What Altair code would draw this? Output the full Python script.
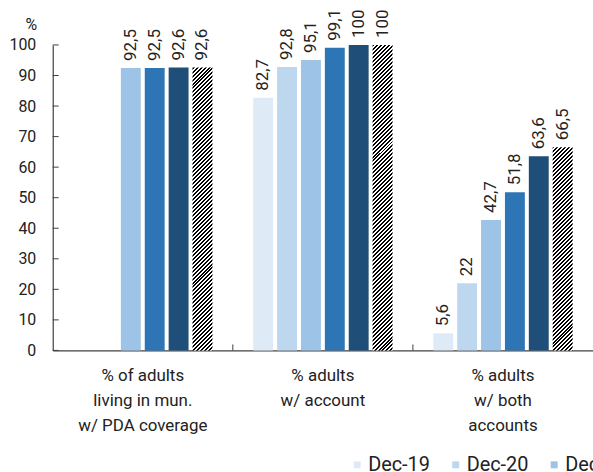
import altair as alt
import pandas as pd

# Categories (line breaks mark where the axis label wraps)
categories = [
    "% of adults\nliving in mun.\nw/ PDA coverage",
    "% adults\nw/ account",
    "% adults\nw/ both\naccounts",
]
series = ["Dec-19", "Dec-20", "Dec-21", "Dec-22", "Dec-23", "Dec-24"]
colors = ["#DEEBF7", "#BDD7EE", "#9DC3E6", "#2E75B6", "#1F4E79", "#3A3A3A"]
hatched = "Dec-24"

values_pda = [None, None, 92.5, 92.5, 92.6, 92.6]
values_account = [82.7, 92.8, 95.1, 99.1, 100, 100]
values_both = [5.6, 22, 42.7, 51.8, 63.6, 66.5]
y_ticks = list(range(0, 101, 10))

W, H = 543, 307          # plot area
BAR_W = 20               # bar width produced by the offset scale below
TEXT = "#222222"
AXIS = "#404040"
FONT = "Roboto"


def fmt(v):
    return str(int(v)) if float(v).is_integer() else str(v).replace(".", ",")


rows = []
for cat, vals in zip(categories, [values_pda, values_account, values_both]):
    for s, v in zip(series, vals):
        if v is not None:
            rows.append({"category": cat, "series": s, "value": v, "label": fmt(v)})
df = pd.DataFrame(rows)

x_scale = alt.Scale(domain=categories, paddingInner=0, paddingOuter=0)
x_axis = alt.Axis(
    title=None, ticks=False, labelAngle=0, labelPadding=17,
    labelFontSize=17, labelLineHeight=25, labelBaseline="top",
    labelExpr="split(datum.label, '\\n')", labelLimit=0,
    labelColor=TEXT, labelFont=FONT, domainColor=AXIS, domainWidth=1.2,
)
x_enc = alt.X("category:N", sort=categories, scale=x_scale, axis=x_axis)
xoff_enc = alt.XOffset(
    "series:N", sort=series,
    scale=alt.Scale(domain=series, paddingInner=1 / 6, paddingOuter=0.854),
)
y_axis = alt.Axis(
    values=y_ticks, ticks=False, grid=False, labelPadding=17, labelFontSize=16,
    labelFont=FONT, labelColor=TEXT, labelFlush=False,
    domainColor=AXIS, domainWidth=1.2,
    title="%", titleAngle=0, titleX=-22, titleY=-21, titleAlign="center",
    titleBaseline="middle", titleFontSize=16, titleFontWeight="normal",
    titleFont=FONT, titleColor=TEXT,
)
y_enc = alt.Y("value:Q", scale=alt.Scale(domain=[0, 100], nice=False), axis=y_axis)

# Solid bars
solid = alt.Chart(df[df["series"] != hatched]).mark_bar().encode(
    x=x_enc,
    xOffset=xoff_enc,
    y=y_enc,
    color=alt.Color(
        "series:N",
        scale=alt.Scale(domain=series, range=colors),
        legend=alt.Legend(
            title=None, orient="none", direction="horizontal",
            legendX=296, legendY=412, symbolType="square", symbolSize=49,
            symbolStrokeWidth=0, labelFontSize=20, labelFont=FONT,
            labelColor=TEXT, labelOffset=1, columnPadding=15, padding=0,
        ),
    ),
)


def hatch_fill(height_px, period=4.0, s=1.1):
    """Diagonal black/white stripes as a hard-stop linear gradient (bbox units)."""
    a = BAR_W / height_px
    span = height_px * s * (1 + a * a)
    p = period / span
    stops = []
    k = 0
    while k * p < 1:
        o0, o1, o2 = k * p, min(k * p + p / 2, 1), min((k + 1) * p, 1)
        stops += [
            {"offset": o0, "color": "#000000"},
            {"offset": o1, "color": "#000000"},
            {"offset": o1, "color": "#ffffff"},
            {"offset": o2, "color": "#ffffff"},
        ]
        k += 1
    return {"gradient": "linear", "x1": 0, "y1": 0, "x2": a * s, "y2": s, "stops": stops}


hatch_layers = []
for cat in categories:
    sub = df[(df["series"] == hatched) & (df["category"] == cat)]
    v = float(sub["value"].iloc[0])
    hatch_layers.append(
        alt.Chart(sub).mark_bar(fill=hatch_fill(v * H / 100)).encode(
            x=x_enc, xOffset=xoff_enc, y=y_enc
        )
    )

labels = alt.Chart(df).mark_text(
    angle=270, align="left", baseline="middle", dx=7,
    fontSize=17, font=FONT, color=TEXT,
).encode(x=x_enc, xOffset=xoff_enc, y=y_enc, text="label:N")

# Inward tick marks on both axes
y_tick_marks = alt.Chart(pd.DataFrame({"value": y_ticks})).mark_rule(
    color=AXIS, strokeWidth=1
).encode(y=y_enc, x=alt.value(0), x2=alt.value(6))

x_tick_marks = alt.Chart(pd.DataFrame({"category": categories[1:]})).mark_rule(
    color=AXIS, strokeWidth=1
).encode(
    x=alt.X("category:N", bandPosition=0, sort=categories, scale=x_scale, axis=x_axis),
    y=alt.value(H), y2=alt.value(H - 6),
)

chart = alt.layer(
    solid, *hatch_layers, labels, y_tick_marks, x_tick_marks
).properties(
    width=W, height=H,
    autosize=alt.AutoSizeParams(type="none"),
    padding={"left": 53, "top": 44, "right": 0, "bottom": 121},
    background="white",
).configure_view(stroke=None)

chart.save("out.html", embed_options={"renderer": "svg", "actions": False})
